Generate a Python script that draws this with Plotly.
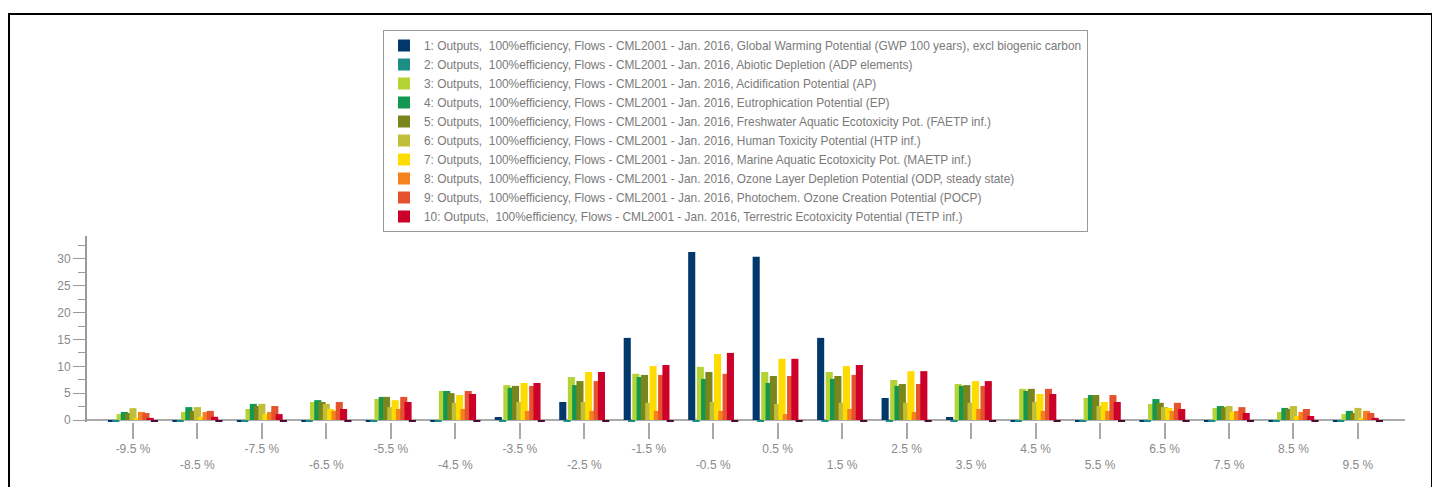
import plotly.graph_objects as go

categories = ["-9.5 %", "-8.5 %", "-7.5 %", "-6.5 %", "-5.5 %", "-4.5 %", "-3.5 %", "-2.5 %", "-1.5 %", "-0.5 %",
              "0.5 %", "1.5 %", "2.5 %", "3.5 %", "4.5 %", "5.5 %", "6.5 %", "7.5 %", "8.5 %", "9.5 %"]

gwp    = [-0.3, -0.3, -0.3, -0.3, -0.3, -0.3, 0.56, 3.35, 15.3, 31.3, 30.4, 15.3, 4.1, 0.56, -0.3, -0.3, -0.3, -0.3, -0.3, -0.3]
adp    = [-0.3] * 20
ap     = [1.1, 1.5, 2.05, 3.35, 3.9, 5.4, 6.5, 8.0, 8.6, 9.9, 8.95, 8.95, 7.45, 6.7, 5.8, 4.1, 3.0, 2.25, 1.5, 1.1]
ep     = [1.5, 2.4, 3.0, 3.7, 4.3, 5.4, 6.0, 6.5, 8.0, 7.65, 6.9, 7.65, 6.35, 6.35, 5.4, 4.65, 3.9, 2.6, 2.25, 1.7]
faetp  = [1.3, 1.7, 2.6, 3.35, 4.3, 5.0, 6.35, 7.25, 8.4, 8.95, 8.2, 8.2, 6.7, 6.5, 5.8, 4.65, 3.2, 2.4, 2.05, 1.3]
htp    = [2.2, 2.4, 3.0, 3.0, 2.4, 3.2, 3.35, 3.35, 3.2, 3.35, 3.0, 3.2, 3.2, 3.2, 3.35, 2.6, 2.4, 2.6, 2.6, 2.25]
maetp  = [0.4, 0.6, 1.1, 2.05, 3.7, 4.65, 6.9, 8.95, 10.05, 12.3, 11.4, 10.05, 9.1, 7.25, 4.85, 3.35, 2.25, 1.5, 0.75, 0.4]
odp    = [1.5, 1.5, 1.5, 1.7, 2.05, 2.05, 1.7, 1.7, 1.7, 1.7, 1.1, 2.05, 1.5, 2.05, 1.7, 1.7, 1.7, 1.7, 1.5, 1.7]
pocp   = [1.3, 1.7, 2.6, 3.35, 4.3, 5.4, 6.35, 7.25, 8.4, 8.6, 8.2, 8.4, 6.7, 6.35, 5.8, 4.65, 3.2, 2.4, 2.05, 1.3]
tetp   = [0.4, 0.6, 1.1, 2.05, 3.35, 4.85, 6.9, 8.95, 10.25, 12.5, 11.4, 10.25, 9.1, 7.25, 4.85, 3.35, 2.05, 1.3, 0.75, 0.4]
extra  = [-0.3] * 20

prefix = "Outputs,\u00a0 100%efficiency, Flows - CML2001 - Jan. 2016, "
series_names = [
    "1: " + prefix + "Global Warming Potential (GWP 100 years), excl biogenic carbon",
    "2: " + prefix + "Abiotic Depletion (ADP elements)",
    "3: " + prefix + "Acidification Potential (AP)",
    "4: " + prefix + "Eutrophication Potential (EP)",
    "5: " + prefix + "Freshwater Aquatic Ecotoxicity Pot. (FAETP inf.)",
    "6: " + prefix + "Human Toxicity Potential (HTP inf.)",
    "7: " + prefix + "Marine Aquatic Ecotoxicity Pot. (MAETP inf.)",
    "8: " + prefix + "Ozone Layer Depletion Potential (ODP, steady state)",
    "9: " + prefix + "Photochem. Ozone Creation Potential (POCP)",
    "10: " + prefix + "Terrestric Ecotoxicity Potential (TETP inf.)",
    "11",
]
series_values = [gwp, adp, ap, ep, faetp, htp, maetp, odp, pocp, tetp, extra]
colors = ["#00386C", "#1B8E85", "#B4D334", "#13984F", "#7A851C", "#C1BF3A",
          "#FFDC00", "#F5821F", "#E5532E", "#CC0029", "#4D0A33"]

tick_text = [c if i % 2 == 0 else "<br>" + c for i, c in enumerate(categories)]

FONT = "Liberation Sans Narrow, Arial Narrow, Liberation Sans, Arial, sans-serif"

fig = go.Figure()
n = len(series_values)
step = 0.0667
bw = 0.11
for i, (name, vals, col) in enumerate(zip(series_names, series_values, colors)):
    fig.add_trace(go.Bar(
        x=categories, y=vals, name=name,
        marker=dict(color=col, line=dict(width=0)),
        width=bw, offset=(i - (n - 1) / 2) * step - bw / 2,
        showlegend=(i < 10),
    ))

# page is rendered with an 8px body margin
OFF = 8
W, H = 1440, 487
ml, mr, mt, mb = 87 - OFF, 43, 236 - OFF, 73
pw = W - ml - mr
ph = H - mt - mb

def px_x(p):
    return (p - OFF - ml) / pw

def px_y(p):
    return (H - mb - (p - OFF)) / ph

fig.update_layout(
    width=W, height=H,
    barmode="overlay",
    margin=dict(l=ml, r=mr, t=mt, b=mb, pad=0),
    plot_bgcolor="white", paper_bgcolor="white",
    font=dict(family=FONT, size=12, color="#8a8a8a"),
    legend=dict(
        x=px_x(383), y=px_y(30), xanchor="left", yanchor="top",
        bordercolor="#9a9a9a", borderwidth=1, bgcolor="white",
        font=dict(family=FONT, size=11.9, color="#7a7a7a"),
        traceorder="normal", tracegroupgap=0, itemsizing="constant",
    ),
    xaxis=dict(
        type="category", range=[-0.713, 19.73],
        tickvals=categories, ticktext=tick_text,
        showline=False, showgrid=False, zeroline=False,
        ticks="outside", ticklen=16, tickwidth=2, tickcolor="#a8a8a8",
        tickfont=dict(family=FONT, size=12, color="#8a8a8a"),
    ),
    yaxis=dict(
        range=[-0.373, 34.28], dtick=5, tick0=0,
        showline=True, linecolor="#9a9a9a", linewidth=2,
        showgrid=False, zeroline=True, zerolinecolor="#ababab", zerolinewidth=2,
        ticks="outside", ticklen=12, tickwidth=1, tickcolor="#9a9a9a",
        tickfont=dict(family=FONT, size=12, color="#8a8a8a"),
        minor=dict(dtick=2.5, ticks="outside", ticklen=7, tickwidth=1, tickcolor="#9a9a9a", showgrid=False),
    ),
    shapes=[dict(type="rect", xref="paper", yref="paper",
                 x0=px_x(9), x1=px_x(1432), y0=px_y(540), y1=px_y(14),
                 line=dict(color="black", width=2), fillcolor="rgba(0,0,0,0)", layer="below")],
)

fig.write_html("out.html")
